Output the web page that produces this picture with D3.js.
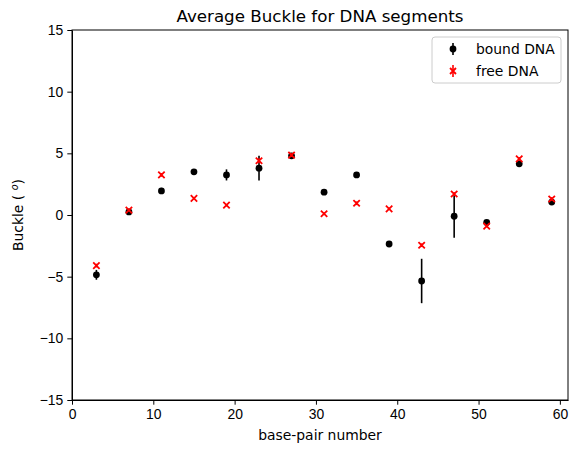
<!DOCTYPE html>
<html>
<head>
<meta charset="utf-8">
<script src="https://cdn.jsdelivr.net/npm/d3@7"></script>
<style>
  body { margin: 0; background: #fff; }
  svg { font-family: "DejaVu Sans", sans-serif; }
  .axis path, .axis line { stroke: #000; stroke-width: 1; }
  .axis text { font-size: 13.9px; fill: #000; }
</style>
</head>
<body>
<div id="chart"></div>
<script>
// base-pair positions
var positions = [3, 7, 11, 15, 19, 23, 27, 31, 35, 39, 43, 47, 51, 55, 59];
// bound DNA average buckle and its error
var boundBuckle = [-4.85, 0.25, 1.95, 3.5, 3.25, 3.8, 4.8, 1.85, 3.25, -2.35, -5.35, -0.1, -0.6, 4.15, 1.05];
var boundErr = [0.4, 0.2, 0.25, 0.2, 0.45, 1.0, 0.2, 0.15, 0.15, 0.15, 1.8, 1.75, 0.2, 0.25, 0.2];
// free DNA average buckle and its error
var freeBuckle = [-4.1, 0.4, 3.25, 1.35, 0.8, 4.4, 4.85, 0.1, 0.95, 0.5, -2.45, 1.7, -0.9, 4.55, 1.3];
var freeErr = [0.15, 0.1, 0.15, 0.1, 0.1, 0.2, 0.15, 0.1, 0.15, 0.1, 0.15, 0.15, 0.1, 0.15, 0.15];
var xTicks = [0, 10, 20, 30, 40, 50, 60];
var yTicks = [-15, -10, -5, 0, 5, 10, 15];

var W = 578, H = 453;
var margin = { top: 30, right: 10, bottom: 53, left: 72 };
var width = W - margin.left - margin.right;
var height = H - margin.top - margin.bottom;

var svg = d3.select('#chart').append('svg')
  .attr('width', W).attr('height', H);

var canvas = svg.append('g')
  .attr('transform', 'translate(' + margin.left + ',' + margin.top + ')');

var xScale = d3.scaleLinear().domain([0, 61]).range([0, width]);
var yScale = d3.scaleLinear().domain([-15, 15]).range([height, 0]);

// axes
canvas.append('g')
  .classed('axis', true)
  .attr('transform', 'translate(0,' + height + ')')
  .call(d3.axisBottom(xScale).tickValues(xTicks).tickSize(4.7).tickPadding(4).tickSizeOuter(0));

canvas.append('g')
  .classed('axis', true)
  .call(d3.axisLeft(yScale).tickValues(yTicks).tickSize(4.7).tickPadding(4).tickSizeOuter(0)
    .tickFormat(function(d) { return d < 0 ? '\u2212' + Math.abs(d) : d; }));

// frame
canvas.append('rect')
  .attr('x', 0).attr('y', 0).attr('width', width).attr('height', height)
  .attr('fill', 'none').attr('stroke', '#000').attr('stroke-width', 1);

function series(vals, errs, color, kind) {
  var g = canvas.append('g');
  var pts = positions.map(function(p, i) { return { x: p, y: vals[i], e: errs[i] }; });
  g.selectAll('line.err').data(pts).enter().append('line')
    .attr('x1', function(d) { return xScale(d.x); })
    .attr('x2', function(d) { return xScale(d.x); })
    .attr('y1', function(d) { return yScale(d.y - d.e); })
    .attr('y2', function(d) { return yScale(d.y + d.e); })
    .attr('stroke', color).attr('stroke-width', 1.6);
  if (kind === 'circle') {
    g.selectAll('circle').data(pts).enter().append('circle')
      .attr('cx', function(d) { return xScale(d.x); })
      .attr('cy', function(d) { return yScale(d.y); })
      .attr('r', 3.4).attr('fill', color);
  } else {
    var s = 3.2;
    g.selectAll('path.mk').data(pts).enter().append('path')
      .attr('d', function(d) {
        var cx = xScale(d.x), cy = yScale(d.y);
        return 'M' + (cx - s) + ',' + (cy - s) + 'L' + (cx + s) + ',' + (cy + s) +
               'M' + (cx - s) + ',' + (cy + s) + 'L' + (cx + s) + ',' + (cy - s);
      })
      .attr('stroke', color).attr('stroke-width', 1.8).attr('fill', 'none');
  }
}

series(boundBuckle, boundErr, '#000', 'circle');
series(freeBuckle, freeErr, 'red', 'x');

// title and labels
svg.append('text')
  .attr('x', margin.left + width / 2).attr('y', 22)
  .attr('text-anchor', 'middle').attr('font-size', 16.7).text('Average Buckle for DNA segments');

svg.append('text')
  .attr('x', margin.left + width / 2).attr('y', 440)
  .attr('text-anchor', 'middle').attr('font-size', 13.9).text('base-pair number');

var yl = svg.append('text')
  .attr('transform', 'translate(23,' + (margin.top + height / 2) + ') rotate(-90)')
  .attr('text-anchor', 'middle').attr('font-size', 13.9);
yl.append('tspan').text('Buckle ( ');
yl.append('tspan').attr('font-style', 'italic').attr('font-size', 9.7).attr('dy', -5).text('o');
yl.append('tspan').attr('dy', 5).text(')');

// legend
var lg = svg.append('g').attr('transform', 'translate(432,37)');
lg.append('rect').attr('width', 129).attr('height', 46).attr('rx', 3)
  .attr('fill', '#fff').attr('fill-opacity', 0.8).attr('stroke', '#ccc');
var items = [{ label: 'bound DNA', color: '#000', kind: 'circle' }, { label: 'free DNA', color: 'red', kind: 'x' }];
items.forEach(function(it, i) {
  var cy = 12 + i * 22, cx = 21;
  lg.append('line').attr('x1', cx).attr('x2', cx).attr('y1', cy - 6).attr('y2', cy + 6)
    .attr('stroke', it.color).attr('stroke-width', 1.6);
  if (it.kind === 'circle') {
    lg.append('circle').attr('cx', cx).attr('cy', cy).attr('r', 3.4).attr('fill', it.color);
  } else {
    lg.append('path').attr('d', 'M' + (cx - 3) + ',' + (cy - 3) + 'L' + (cx + 3) + ',' + (cy + 3) +
      'M' + (cx - 3) + ',' + (cy + 3) + 'L' + (cx + 3) + ',' + (cy - 3))
      .attr('stroke', it.color).attr('stroke-width', 1.8);
  }
  lg.append('text').attr('x', 44).attr('y', cy + 5).attr('font-size', 13.9).text(it.label);
});
</script>
</body>
</html>
